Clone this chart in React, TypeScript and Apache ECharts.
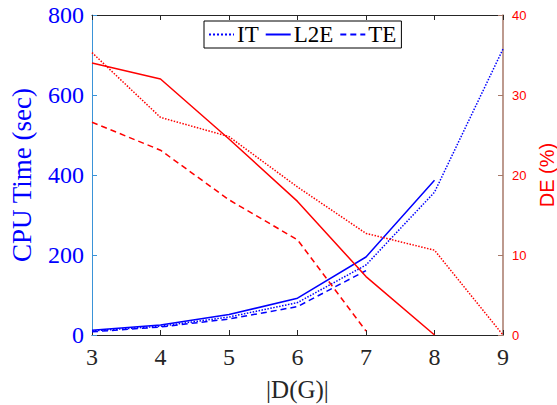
import React, { useEffect, useRef } from "react";
import * as echarts from "echarts";

const sizes = [3, 4, 5, 6, 7, 8, 9];
const cpuIT = [10, 22, 45, 81, 175, 357, 715];
const cpuL2E = [12, 25, 51, 92, 195, 387];
const cpuTE = [8, 20, 40, 71, 161];
const deIT = [35.3, 27.2, 24.8, 18.5, 12.7, 10.6, 0];
const deL2E = [34, 32, 24.5, 16.7, 7.3, 0];
const deTE = [26.6, 23.1, 16.9, 11.9, 0.5];

const pairs = (vals: number[]) => vals.map((v, i) => [sizes[i], v]);

const BLUE = "#0000ff";
const RED = "#ff0000";
const SERIF = "'Liberation Serif', 'Times New Roman', serif";
const SANS = "'Liberation Sans', Arial, sans-serif";

export default function App() {
  const ref = useRef<HTMLDivElement>(null);
  useEffect(() => {
    if (!ref.current) return;
    const chart = echarts.init(ref.current, undefined, { renderer: "svg" });
    const mk = (name: string, data: number[], color: string, type: any, yIdx: number) => ({
      name,
      type: "line",
      yAxisIndex: yIdx,
      data: pairs(data),
      symbol: "none",
      showSymbol: false,
      lineStyle: { color, width: 1.5, type },
      itemStyle: { color },
      z: 3,
    });
    chart.setOption({
      animation: false,
      grid: { left: 92, right: 54, top: 15, bottom: 70, containLabel: false, outerBoundsMode: "none" },
      legend: {
        data: ["IT", "L2E", "TE"],
        left: 204,
        top: 21,
        padding: [2, 5, 2, 4],
        itemGap: 6,
        itemWidth: 25,
        itemHeight: 12,
        borderColor: "#000",
        borderWidth: 1,
        backgroundColor: "#fff",
        itemStyle: { opacity: 0 },
        textStyle: { fontFamily: SERIF, fontSize: 23, color: "#000", padding: [0, 0, 0, -2] },
      },
      xAxis: [
        {
          type: "value",
          min: 3,
          max: 9,
          interval: 1,
          position: "bottom",
          axisLine: { onZero: false, lineStyle: { color: "#262626", width: 1 } },
          axisTick: { inside: true, length: 5, lineStyle: { color: "#262626" } },
          splitLine: { show: false },
          axisLabel: { fontFamily: SERIF, fontSize: 24, color: "#262626", margin: 10 },
          name: "|D(G)|",
          nameLocation: "middle",
          nameGap: 42,
          nameTextStyle: { fontFamily: SERIF, fontSize: 25, color: "#262626" },
        },
        {
          type: "value",
          min: 3,
          max: 9,
          interval: 1,
          position: "top",
          axisLine: { onZero: false, lineStyle: { color: "#262626", width: 1 } },
          axisTick: { inside: true, length: 5, lineStyle: { color: "#262626" } },
          splitLine: { show: false },
          axisLabel: { show: false },
        },
      ],
      yAxis: [
        {
          type: "value",
          min: 0,
          max: 800,
          interval: 200,
          position: "left",
          axisLine: { show: true, onZero: false, lineStyle: { color: "#3a93d8", width: 1 } },
          axisTick: { show: true, inside: true, length: 5, lineStyle: { color: "#3a93d8" } },
          splitLine: { show: false },
          axisLabel: { fontFamily: SERIF, fontSize: 24, color: BLUE, margin: 8 },
          name: "CPU Time (sec)",
          nameLocation: "middle",
          nameGap: 57,
          nameTextStyle: { fontFamily: SERIF, fontSize: 27, color: BLUE },
        },
        {
          type: "value",
          min: 0,
          max: 40,
          interval: 10,
          position: "right",
          axisLine: { show: true, onZero: false, lineStyle: { color: "#a77868", width: 1.5 } },
          axisTick: { show: true, inside: true, length: 5, lineStyle: { color: "#a77868" } },
          splitLine: { show: false },
          axisLabel: { fontFamily: SANS, fontSize: 13, color: RED, margin: 9 },
          name: "DE (%)",
          nameLocation: "middle",
          nameGap: 32,
          nameTextStyle: { fontFamily: SANS, fontSize: 20, color: RED },
        },
      ],
      series: [
        mk("IT", cpuIT, BLUE, "dotted", 0),
        mk("L2E", cpuL2E, BLUE, "solid", 0),
        mk("TE", cpuTE, BLUE, [6, 4], 0),
        mk("IT DE", deIT, RED, "dotted", 1),
        mk("L2E DE", deL2E, RED, "solid", 1),
        mk("TE DE", deTE, RED, [6, 4], 1),
      ],
    });
    return () => chart.dispose();
  }, []);
  return <div ref={ref} style={{ width: 557, height: 405, position: "absolute", left: 0, top: 0, background: "#fff" }} />;
}
